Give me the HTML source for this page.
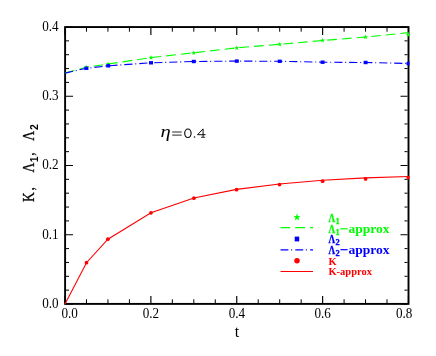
<!DOCTYPE html>
<html><head><meta charset="utf-8"><title>chart</title><style>html,body{margin:0;padding:0;background:#fff}body{width:436px;height:356px;overflow:hidden}</style></head><body>
<svg width="436" height="356" viewBox="0 0 436 356" style="display:block;will-change:transform">
<rect width="436" height="356" fill="#fff"/>
<g stroke="#000" fill="none"><path d="M65.00 303V296.0M65.00 28V35.0" stroke-width="1.15"/><path d="M86.47 303V299.3M86.47 28V31.7" stroke-width="1.0"/><path d="M107.94 303V299.3M107.94 28V31.7" stroke-width="1.0"/><path d="M129.41 303V299.3M129.41 28V31.7" stroke-width="1.0"/><path d="M150.88 303V296.0M150.88 28V35.0" stroke-width="1.15"/><path d="M172.34 303V299.3M172.34 28V31.7" stroke-width="1.0"/><path d="M193.81 303V299.3M193.81 28V31.7" stroke-width="1.0"/><path d="M215.28 303V299.3M215.28 28V31.7" stroke-width="1.0"/><path d="M236.75 303V296.0M236.75 28V35.0" stroke-width="1.15"/><path d="M258.22 303V299.3M258.22 28V31.7" stroke-width="1.0"/><path d="M279.69 303V299.3M279.69 28V31.7" stroke-width="1.0"/><path d="M301.16 303V299.3M301.16 28V31.7" stroke-width="1.0"/><path d="M322.63 303V296.0M322.63 28V35.0" stroke-width="1.15"/><path d="M344.09 303V299.3M344.09 28V31.7" stroke-width="1.0"/><path d="M365.56 303V299.3M365.56 28V31.7" stroke-width="1.0"/><path d="M387.03 303V299.3M387.03 28V31.7" stroke-width="1.0"/><path d="M408.50 303V296.0M408.50 28V35.0" stroke-width="1.15"/><path d="M66 304.00H73.0M407.5 304.00H400.5" stroke-width="1.15"/><path d="M66 290.15H69.0M407.5 290.15H404.5" stroke-width="1.0"/><path d="M66 276.30H69.0M407.5 276.30H404.5" stroke-width="1.0"/><path d="M66 262.45H69.0M407.5 262.45H404.5" stroke-width="1.0"/><path d="M66 248.60H69.0M407.5 248.60H404.5" stroke-width="1.0"/><path d="M66 234.75H73.0M407.5 234.75H400.5" stroke-width="1.15"/><path d="M66 220.90H69.0M407.5 220.90H404.5" stroke-width="1.0"/><path d="M66 207.05H69.0M407.5 207.05H404.5" stroke-width="1.0"/><path d="M66 193.20H69.0M407.5 193.20H404.5" stroke-width="1.0"/><path d="M66 179.35H69.0M407.5 179.35H404.5" stroke-width="1.0"/><path d="M66 165.50H73.0M407.5 165.50H400.5" stroke-width="1.15"/><path d="M66 151.65H69.0M407.5 151.65H404.5" stroke-width="1.0"/><path d="M66 137.80H69.0M407.5 137.80H404.5" stroke-width="1.0"/><path d="M66 123.95H69.0M407.5 123.95H404.5" stroke-width="1.0"/><path d="M66 110.10H69.0M407.5 110.10H404.5" stroke-width="1.0"/><path d="M66 96.25H73.0M407.5 96.25H400.5" stroke-width="1.15"/><path d="M66 82.40H69.0M407.5 82.40H404.5" stroke-width="1.0"/><path d="M66 68.55H69.0M407.5 68.55H404.5" stroke-width="1.0"/><path d="M66 54.70H69.0M407.5 54.70H404.5" stroke-width="1.0"/><path d="M66 40.85H69.0M407.5 40.85H404.5" stroke-width="1.0"/><path d="M66 27.00H73.0M407.5 27.00H400.5" stroke-width="1.15"/></g>
<rect x="65.1" y="27.05" width="343.4" height="276.85" fill="none" stroke="#000" stroke-width="1.9"/>
<defs><clipPath id="c"><rect x="64" y="26" width="345.6" height="279"/></clipPath></defs><g clip-path="url(#c)">
<polyline points="65.0,73.1 86.4,67.3 108.2,64.0 151.0,57.6 193.8,52.8 236.8,47.8 279.7,44.3 322.6,40.5 365.6,37.0 408.5,32.6" fill="none" stroke="#00ff00" stroke-width="1.1" stroke-dasharray="9.7 5"/>
<polygon points="86.4,64.7 87.0,66.4 88.9,66.5 87.4,67.6 87.9,69.4 86.4,68.4 84.9,69.4 85.4,67.6 83.9,66.5 85.8,66.4" fill="#00ff00"/>
<polygon points="108.2,61.4 108.8,63.1 110.7,63.2 109.2,64.3 109.7,66.1 108.2,65.1 106.7,66.1 107.2,64.3 105.7,63.2 107.6,63.1" fill="#00ff00"/>
<polygon points="151.0,55.0 151.6,56.7 153.5,56.8 152.0,57.9 152.5,59.7 151.0,58.7 149.5,59.7 150.0,57.9 148.5,56.8 150.4,56.7" fill="#00ff00"/>
<polygon points="193.8,50.2 194.4,51.9 196.3,52.0 194.8,53.1 195.3,54.9 193.8,53.9 192.3,54.9 192.8,53.1 191.3,52.0 193.2,51.9" fill="#00ff00"/>
<polygon points="236.8,45.2 237.4,46.9 239.2,47.0 237.8,48.1 238.3,49.9 236.8,48.9 235.2,49.9 235.7,48.1 234.3,47.0 236.1,46.9" fill="#00ff00"/>
<polygon points="279.7,41.7 280.3,43.4 282.2,43.5 280.7,44.6 281.2,46.4 279.7,45.4 278.2,46.4 278.7,44.6 277.2,43.5 279.1,43.4" fill="#00ff00"/>
<polygon points="322.6,37.9 323.2,39.6 325.1,39.7 323.6,40.8 324.1,42.6 322.6,41.6 321.1,42.6 321.6,40.8 320.1,39.7 322.0,39.6" fill="#00ff00"/>
<polygon points="365.6,34.6 366.2,36.3 368.1,36.4 366.6,37.5 367.1,39.3 365.6,38.3 364.1,39.3 364.6,37.5 363.1,36.4 365.0,36.3" fill="#00ff00"/>
<polygon points="408.5,32.3 409.1,34.0 411.0,34.1 409.5,35.2 410.0,37.0 408.5,36.0 407.0,37.0 407.5,35.2 406.0,34.1 407.9,34.0" fill="#00ff00"/>
<polyline points="65.0,73.1 86.4,68.3 108.2,65.8 151.0,62.8 193.8,61.5 236.8,61.1 279.7,61.3 322.6,62.2 365.6,62.5 408.5,63.5" fill="none" stroke="#0000ff" stroke-width="1.1" stroke-dasharray="8.2 2.8 1 3"/>
<rect x="84.4" y="66.6" width="4" height="3.4" fill="#0000ff"/>
<rect x="106.2" y="64.1" width="4" height="3.4" fill="#0000ff"/>
<rect x="149.0" y="61.1" width="4" height="3.4" fill="#0000ff"/>
<rect x="191.8" y="59.8" width="4" height="3.4" fill="#0000ff"/>
<rect x="234.8" y="59.4" width="4" height="3.4" fill="#0000ff"/>
<rect x="277.7" y="59.6" width="4" height="3.4" fill="#0000ff"/>
<rect x="320.6" y="60.5" width="4" height="3.4" fill="#0000ff"/>
<rect x="363.6" y="60.8" width="4" height="3.4" fill="#0000ff"/>
<rect x="406.5" y="61.8" width="4" height="3.4" fill="#0000ff"/>
<polyline points="65.0,304.0 86.5,262.7 107.9,239.2 151.0,212.8 193.9,198.0 236.6,189.4 279.5,184.0 322.6,180.2 365.6,177.9 408.5,176.5" fill="none" stroke="#ff0000" stroke-width="1.1"/>
<circle cx="86.5" cy="262.7" r="1.85" fill="#ff0000"/>
<circle cx="107.9" cy="239.2" r="1.85" fill="#ff0000"/>
<circle cx="151.0" cy="212.8" r="1.85" fill="#ff0000"/>
<circle cx="193.9" cy="198.2" r="1.85" fill="#ff0000"/>
<circle cx="236.6" cy="189.7" r="1.85" fill="#ff0000"/>
<circle cx="279.5" cy="184.6" r="1.85" fill="#ff0000"/>
<circle cx="322.6" cy="181.2" r="1.85" fill="#ff0000"/>
<circle cx="365.6" cy="178.9" r="1.85" fill="#ff0000"/>
<circle cx="408.4" cy="177.6" r="1.85" fill="#ff0000"/>
</g>
<g font-family="'Liberation Serif', serif" font-size="13.9" fill="#000">
<text transform="translate(58.6,30.90) scale(0.945,1)" text-anchor="end">0.4</text>
<text transform="translate(58.6,100.15) scale(0.945,1)" text-anchor="end">0.3</text>
<text transform="translate(58.6,169.40) scale(0.945,1)" text-anchor="end">0.2</text>
<text transform="translate(58.6,238.65) scale(0.945,1)" text-anchor="end">0.1</text>
<text transform="translate(58.6,307.90) scale(0.945,1)" text-anchor="end">0.0</text>
<text transform="translate(69.6,318.1) scale(0.945,1)" text-anchor="middle">0.0</text>
<text transform="translate(150.9,318.1) scale(0.945,1)" text-anchor="middle">0.2</text>
<text transform="translate(236.9,318.1) scale(0.945,1)" text-anchor="middle">0.4</text>
<text transform="translate(322.6,318.1) scale(0.945,1)" text-anchor="middle">0.6</text>
<text transform="translate(404.2,318.1) scale(0.945,1)" text-anchor="middle">0.8</text>
</g>
<text x="237" y="337" text-anchor="middle" font-family="'Liberation Serif', serif" font-size="16">t</text>
<text transform="translate(34.3,202.0) rotate(-90) scale(0.79,1)" font-family="'Liberation Serif', serif" font-size="17.2" fill="#000" stroke="#000" stroke-width="0.3">K</text>
<text transform="translate(34.3,190.4) rotate(-90) scale(0.79,1)" font-family="'Liberation Serif', serif" font-size="17.2" fill="#000" stroke="#000" stroke-width="0.3">,</text>
<text transform="translate(34.3,172.5) rotate(-90) scale(0.79,1)" font-family="'Liberation Serif', serif" font-size="17.2" fill="#000" stroke="#000" stroke-width="0.3">Λ</text>
<text transform="translate(38.4,162.3) rotate(-90) scale(0.95,1)" font-family="'Liberation Sans', sans-serif" font-weight="bold" font-size="11" fill="#000">1</text>
<text transform="translate(34.3,155.7) rotate(-90) scale(0.79,1)" font-family="'Liberation Serif', serif" font-size="17.2" fill="#000" stroke="#000" stroke-width="0.3">,</text>
<text transform="translate(34.3,140.7) rotate(-90) scale(0.79,1)" font-family="'Liberation Serif', serif" font-size="17.2" fill="#000" stroke="#000" stroke-width="0.3">Λ</text>
<text transform="translate(38.4,129.9) rotate(-90) scale(0.95,1)" font-family="'Liberation Sans', sans-serif" font-weight="bold" font-size="11" fill="#000">2</text>
<text transform="translate(160.6,137.1) scale(1.25,1)" font-family="'Liberation Serif', serif" font-style="italic" font-size="16.5">η</text>
<g stroke="#000" fill="none" stroke-width="0.95"><path d="M172.2 132H181.7M172.2 135.1H181.7" stroke-width="0.85"/><ellipse cx="187.9" cy="133.3" rx="3.2" ry="4.25" stroke-width="1.1"/><path d="M203.1 128.9V137.2M203.1 128.9L197.5 134.7H205.6" stroke-width="0.95"/><path d="M201 137.3H205.2" stroke-width="0.8"/></g><circle cx="194.5" cy="137.1" r="0.75" fill="#000"/>
<polygon points="297.0,213.6 297.9,216.0 300.5,216.2 298.5,217.8 299.2,220.3 297.0,218.9 294.8,220.3 295.5,217.8 293.5,216.2 296.1,216.0" fill="#00ff00"/>
<path d="M280.5 227.7H313" stroke="#00ff00" stroke-width="1.2" stroke-dasharray="9.8 4.9"/>
<rect x="294.7" y="236.6" width="4.5" height="4.8" fill="#0000ff"/>
<path d="M280.5 249.9H313" stroke="#0000ff" stroke-width="1.2" stroke-dasharray="7.9 2.7 1 3.2"/>
<circle cx="297" cy="260.7" r="2.75" fill="#ff0000"/>
<path d="M280.5 271.5H313" stroke="#ff0000" stroke-width="1.1"/>
<g fill="#00ff00" font-family="'Liberation Serif', serif" font-weight="bold"><text transform="translate(328.4,221.5) scale(0.737,1)" font-size="12.6" stroke="#00ff00" stroke-width="0.35">Λ</text><text transform="translate(335.4,223.9) scale(1.0,1)" font-size="8.4" stroke="#00ff00" stroke-width="0.3">1</text></g>
<g fill="#00ff00" font-family="'Liberation Serif', serif" font-weight="bold"><text transform="translate(328.4,232.6) scale(0.737,1)" font-size="12.6" stroke="#00ff00" stroke-width="0.35">Λ</text><text transform="translate(335.4,235.0) scale(1.0,1)" font-size="8.4" stroke="#00ff00" stroke-width="0.3">1</text><path d="M340.4 228.79999999999998H347.6" stroke="#00ff00" stroke-width="1.2"/><text transform="translate(348.4,232.6) scale(1.096,1)" font-size="12.4">approx</text></g>
<g fill="#0000ff" font-family="'Liberation Serif', serif" font-weight="bold"><text transform="translate(328.4,242.8) scale(0.737,1)" font-size="12.6" stroke="#0000ff" stroke-width="0.35">Λ</text><text transform="translate(335.4,245.20000000000002) scale(1.0,1)" font-size="8.4" stroke="#0000ff" stroke-width="0.3">2</text></g>
<g fill="#0000ff" font-family="'Liberation Serif', serif" font-weight="bold"><text transform="translate(328.4,253.5) scale(0.737,1)" font-size="12.6" stroke="#0000ff" stroke-width="0.35">Λ</text><text transform="translate(335.4,255.9) scale(1.0,1)" font-size="8.4" stroke="#0000ff" stroke-width="0.3">2</text><path d="M340.4 249.7H347.6" stroke="#0000ff" stroke-width="1.2"/><text transform="translate(348.4,253.5) scale(1.096,1)" font-size="12.4">approx</text></g>
<g fill="#ff0000" font-family="'Liberation Serif', serif" font-weight="bold" font-size="10.5"><text x="328.4" y="264.6">K</text><text x="328.4" y="275.4">K-approx</text></g>
</svg>
</body></html>
